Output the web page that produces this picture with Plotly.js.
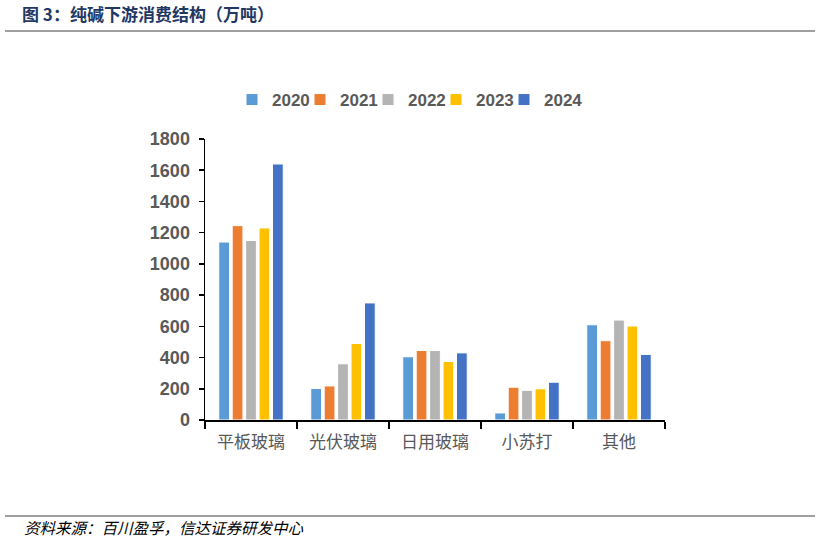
<!DOCTYPE html>
<html>
<head>
<meta charset="utf-8">
<script src="https://cdn.plot.ly/plotly-3.0.1.min.js"></script>
<style>html,body{margin:0;padding:0;background:#fff;}#chart{width:822px;height:540px;}</style>
</head>
<body>
<div id="chart"></div>
<script>
const categories = ["平板玻璃", "光伏玻璃", "日用玻璃", "小苏打", "其他"];
const years = ["2020", "2021", "2022", "2023", "2024"];
const v2020 = [1140, 202, 405, 45, 610];
const v2021 = [1245, 218, 445, 210, 508];
const v2022 = [1150, 360, 445, 190, 640];
const v2023 = [1230, 490, 375, 200, 602];
const v2024 = [1640, 750, 430, 242, 420];
const seriesValues = [v2020, v2021, v2022, v2023, v2024];
const colors = ["#5B9BD5", "#ED7D31", "#B4B4B4", "#FFC000", "#4472C4"];

const legendIds = ["legend", "legend2", "legend3", "legend4", "legend5"];

const traces = years.map((y, i) => ({
  type: "bar",
  name: y,
  x: categories,
  y: seriesValues[i],
  legend: legendIds[i],
  marker: { color: colors[i], line: { color: "#ffffff", width: 1 } },
  hoverinfo: "x+y+name"
}));

const L = 205, R = 665, T = 139, B = 420;
const px = v => (v - L) / (R - L);
const py = v => (B - v) / (B - T);

const layout = {
  width: 822, height: 540,
  margin: { l: L, r: 822 - R, t: T, b: 540 - B, pad: 0 },
  paper_bgcolor: "#ffffff",
  plot_bgcolor: "#ffffff",
  barmode: "group",
  bargap: 0.27,
  bargroupgap: 0.2,
  showlegend: true,
  title: {
    text: "图 3：纯碱下游消费结构（万吨）",
    xref: "container", yref: "container",
    x: 22 / 822, xanchor: "left",
    y: 1 - 15 / 540, yanchor: "middle",
    font: { family: "Noto Sans CJK SC, sans-serif", size: 17, color: "#1F3864", weight: "bold" }
  },
  xaxis: {
    type: "category",
    showline: true, linecolor: "#000000", linewidth: 1.5,
    ticks: "outside", tickson: "boundaries", ticklen: 7, tickcolor: "#000000", tickwidth: 1.5,
    ticklabelstandoff: 6,
    showgrid: false, zeroline: false,
    tickfont: { family: "Noto Sans CJK SC, sans-serif", size: 17, color: "#595959" },
    fixedrange: true
  },
  yaxis: {
    range: [0, 1800], dtick: 200, tick0: 0,
    showline: true, linecolor: "#000000", linewidth: 1.5,
    ticks: "outside", ticklen: 5, tickcolor: "#000000", tickwidth: 1.5,
    ticklabelstandoff: 5,
    showgrid: false, zeroline: false,
    tickfont: { family: "Liberation Sans, Arial, sans-serif", size: 18, color: "#595959", weight: "bold" },
    fixedrange: true
  },
  shapes: [
    { type: "line", xref: "paper", yref: "paper", x0: px(5), x1: px(815), y0: py(31), y1: py(31), line: { color: "#404040", width: 1.2 } },
    { type: "line", xref: "paper", yref: "paper", x0: px(5), x1: px(815), y0: py(516), y1: py(516), line: { color: "#404040", width: 1.2 } }
  ],
  annotations: [
    {
      text: "资料来源：百川盈孚，信达证券研发中心",
      xref: "paper", yref: "paper",
      x: px(22), xanchor: "left",
      y: py(527), yanchor: "middle",
      showarrow: false,
      font: { family: "Noto Sans CJK SC, sans-serif", size: 15.5, color: "#000000", style: "italic" }
    }
  ]
};

const legendMarkerLeft = [252, 320, 388, 456, 524];
legendIds.forEach((id, i) => {
  layout[id] = {
    orientation: "h",
    x: px(legendMarkerLeft[i] - 20), xanchor: "left",
    y: py(100), yanchor: "middle",
    font: { family: "Liberation Sans, Arial, sans-serif", size: 17, color: "#595959", weight: "bold" },
    itemwidth: 30,
    bgcolor: "rgba(0,0,0,0)"
  };
});

Plotly.newPlot("chart", traces, layout, { displayModeBar: false, staticPlot: true });
</script>
</body>
</html>
